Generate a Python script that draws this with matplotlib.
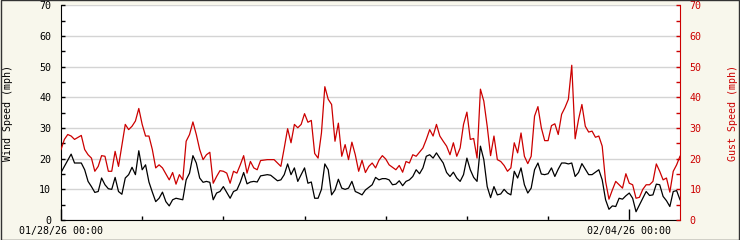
"""Wind speed / gust speed chart, 01/28/26 - 02/04/26."""
import matplotlib
matplotlib.use("Agg")
import matplotlib.pyplot as plt
import matplotlib.dates as mdates
from matplotlib.ticker import FixedLocator, MultipleLocator, NullFormatter
import pandas as pd

START = pd.Timestamp("2026-01-28 00:00")
END_HOURS = 183

# hours since START, mph
wind_hours = [0, 3, 4, 6, 7, 8, 9, 10, 11, 12, 13, 14, 15, 16, 17, 18, 19, 20, 21, 22,
              23, 24, 25, 26, 27, 28, 29, 30, 31, 32, 33, 34, 36, 37, 38, 39, 40, 41, 42, 43,
              44, 45, 46, 47, 48, 49, 50, 51, 52, 53, 54, 55, 56, 57, 58, 59, 61, 62, 64, 65,
              66, 67, 68, 69, 70, 71, 72, 73, 74, 75, 76, 77, 78, 79, 80, 81, 82, 83, 84, 85,
              86, 87, 88, 89, 90, 92, 93, 94, 95, 96, 97, 98, 99, 100, 101, 102, 103, 104, 105, 106,
              107, 108, 109, 110, 111, 112, 113, 114, 115, 116, 117, 118, 119, 120, 121, 122, 123, 124, 125, 126,
              127, 128, 129, 130, 131, 132, 133, 134, 135, 136, 137, 138, 139, 140, 141, 142, 143, 144, 145, 146,
              147, 148, 149, 150, 151, 152, 153, 154, 155, 156, 157, 158, 159, 160, 161, 162, 163, 164, 165, 166,
              167, 168, 169, 170, 171, 172, 173, 174, 175, 176, 177, 178, 179, 180, 181, 182, 183]
wind_mph = [15.5, 21.5, 18.6, 18.6, 16.4, 12.6, 10.9, 9.0, 9.3, 13.7, 11.5, 10.2, 10.0, 13.9, 9.3, 8.4, 13.7, 14.8, 17.2, 14.8,
            22.6, 16.4, 18.0, 12.4, 9.1, 6.0, 7.1, 9.1, 6.0, 4.6, 6.6, 7.1, 6.6, 13.1, 15.3, 21.0, 18.6, 13.7, 12.3, 12.6,
            12.3, 6.6, 8.8, 9.3, 10.9, 9.0, 7.1, 9.3, 9.8, 12.3, 15.5, 11.8, 12.4, 12.6, 12.4, 14.4, 14.8, 14.6, 12.8, 13.1,
            14.8, 18.3, 14.8, 17.0, 12.6, 14.8, 17.0, 12.0, 12.4, 7.1, 7.1, 10.0, 18.3, 16.4, 8.2, 9.8, 13.3, 10.4, 10.0, 10.4,
            12.6, 9.3, 8.8, 8.2, 9.8, 11.5, 13.9, 13.1, 13.5, 13.5, 13.1, 11.5, 11.7, 12.8, 11.2, 12.6, 13.1, 14.2, 16.4, 15.1,
            17.0, 20.8, 21.3, 20.2, 21.9, 20.2, 18.6, 15.5, 14.2, 15.6, 13.7, 12.6, 14.8, 20.2, 16.4, 13.9, 12.6, 24.1, 19.7, 10.9,
            7.3, 10.9, 8.2, 8.5, 10.0, 8.8, 8.2, 15.9, 13.7, 17.0, 11.5, 8.8, 10.4, 16.4, 18.6, 15.0, 14.8, 15.1, 17.0, 14.2,
            16.6, 18.6, 18.6, 18.3, 18.6, 14.2, 15.5, 18.4, 16.6, 14.8, 14.8, 15.6, 16.4, 13.1, 6.6, 3.5, 4.6, 4.4, 7.1, 6.8,
            7.9, 8.8, 7.1, 2.7, 4.9, 7.1, 9.3, 8.0, 8.2, 11.7, 11.5, 7.7, 6.3, 4.4, 9.3, 9.6, 6.6]

gust_hours = [0, 1, 2, 3, 4, 6, 7, 8, 9, 10, 11, 12, 13, 14, 15, 16, 17, 19, 20, 21,
              22, 23, 24, 25, 26, 27, 28, 29, 30, 32, 33, 34, 35, 36, 37, 38, 39, 40, 41, 42,
              43, 44, 45, 46, 47, 48, 49, 50, 51, 52, 53, 54, 55, 56, 57, 58, 59, 61, 63, 65,
              66, 67, 68, 69, 70, 71, 72, 73, 74, 75, 76, 77, 78, 79, 80, 81, 82, 83, 84, 85,
              86, 87, 88, 89, 90, 91, 92, 93, 94, 95, 96, 97, 99, 100, 101, 102, 103, 104, 105, 107,
              108, 109, 110, 111, 112, 113, 114, 115, 116, 117, 118, 119, 120, 121, 122, 123, 124, 125, 126, 127,
              128, 129, 130, 131, 132, 133, 134, 135, 136, 137, 138, 139, 140, 141, 142, 143, 144, 145, 146, 147,
              148, 149, 150, 151, 152, 153, 154, 155, 156, 157, 158, 159, 160, 161, 162, 163, 164, 165, 166, 167,
              168, 169, 170, 171, 172, 173, 174, 175, 176, 177, 178, 179, 180, 181, 182, 183]
gust_mph = [23.0, 26.3, 27.9, 27.4, 26.3, 27.6, 23.0, 21.3, 20.2, 15.9, 17.5, 21.0, 20.8, 15.9, 15.9, 22.4, 17.5, 31.2, 29.5, 30.6,
            32.3, 36.4, 31.2, 27.4, 27.4, 23.0, 17.0, 18.0, 17.0, 13.1, 15.5, 11.7, 14.8, 13.1, 25.7, 27.9, 32.0, 27.9, 23.0, 19.7,
            21.3, 22.1, 12.0, 14.2, 16.1, 15.9, 15.3, 12.0, 15.9, 15.3, 18.0, 21.0, 15.3, 19.1, 17.0, 16.4, 19.4, 19.7, 19.7, 17.5,
            23.5, 29.8, 25.2, 31.2, 30.1, 31.2, 34.7, 31.9, 32.5, 21.7, 20.2, 28.4, 43.5, 39.4, 37.7, 25.7, 31.6, 20.8, 24.6, 19.7,
            25.4, 21.3, 15.9, 19.5, 15.5, 17.5, 18.6, 17.0, 19.5, 21.0, 19.9, 18.0, 16.4, 17.8, 15.6, 19.1, 18.6, 21.3, 20.8, 23.5,
            26.3, 29.5, 27.4, 31.2, 27.4, 25.7, 24.1, 21.3, 25.2, 20.8, 23.5, 31.2, 35.2, 26.3, 26.6, 20.2, 42.7, 38.8, 30.6, 21.0,
            27.4, 19.7, 19.1, 17.8, 15.9, 17.0, 25.2, 21.9, 28.4, 20.8, 18.4, 20.8, 33.9, 37.0, 30.1, 25.9, 25.9, 30.8, 31.4, 27.9,
            34.5, 36.7, 39.4, 50.5, 26.5, 32.8, 37.7, 30.6, 28.7, 29.0, 27.0, 27.4, 24.1, 12.6, 6.8, 9.8, 12.6, 11.5, 10.4, 15.1,
            12.0, 11.5, 7.1, 7.4, 10.0, 11.5, 11.5, 12.6, 18.3, 15.9, 13.1, 13.7, 9.1, 15.9, 18.0, 20.8]

label_days = ["2026-01-28", "2026-02-04"]

RED = "#cc0000"
BG = "#f8f7ec"

plt.rcParams["font.family"] = ["DejaVu Sans Mono"]
plt.rcParams["font.size"] = 7.2

wind_t = START + pd.to_timedelta(wind_hours, unit="h")
gust_t = START + pd.to_timedelta(gust_hours, unit="h")


def main():
    fig = plt.figure(figsize=(7.4, 2.4), dpi=100, facecolor=BG)
    ax = fig.add_axes([61 / 740, 20 / 240, 619 / 740, 214.5 / 240])
    ax2 = ax.twinx()

    ax.plot(wind_t, wind_mph, color="black", linewidth=0.9)
    ax2.plot(gust_t, gust_mph, color=RED, linewidth=0.9)

    ax.set_xlim(START, START + pd.Timedelta(hours=END_HOURS))
    for a in (ax, ax2):
        a.set_ylim(0, 70)
        a.yaxis.set_major_locator(MultipleLocator(10))
        a.yaxis.set_minor_locator(MultipleLocator(5))
        a.spines["top"].set_visible(False)
    ax.grid(axis="y", color="#d4d4d4", linewidth=1.0)
    ax.set_axisbelow(True)

    # x ticks: labelled weekly, small ticks daily
    major = [mdates.date2num(pd.Timestamp(d)) for d in label_days]
    ax.xaxis.set_major_locator(FixedLocator(major))
    ax.xaxis.set_major_formatter(mdates.DateFormatter("%m/%d/%y %H:%M"))
    ax.xaxis.set_minor_locator(mdates.DayLocator())
    ax.xaxis.set_minor_formatter(NullFormatter())
    ax.tick_params(axis="x", which="major", direction="in", length=8, width=1, pad=4)
    ax.tick_params(axis="x", which="minor", direction="in", length=3, width=1)

    ax.tick_params(axis="y", which="both", direction="in", length=3, width=1, pad=7)
    ax2.tick_params(axis="y", which="both", direction="in", length=3, width=1, pad=7,
                    colors=RED)
    ax2.spines["right"].set_color(RED)
    ax.spines["right"].set_visible(False)
    ax2.spines["left"].set_visible(False)
    ax2.spines["bottom"].set_visible(False)

    ax.set_ylabel("Wind Speed (mph)")
    ax.yaxis.set_label_coords(-0.077, 0.5)
    ax2.set_ylabel("Gust Speed (mph)", color=RED)
    ax2.yaxis.set_label_coords(1.078, 0.5)

    # thin frame round the whole picture
    fig.patches.append(plt.Rectangle((0.0007, 0.002), 0.9986, 0.996, transform=fig.transFigure,
                                     fill=False, edgecolor="#333333", linewidth=1.0))

    fig.savefig("out.png", dpi=100, facecolor=BG)


if __name__ == "__main__":
    main()
